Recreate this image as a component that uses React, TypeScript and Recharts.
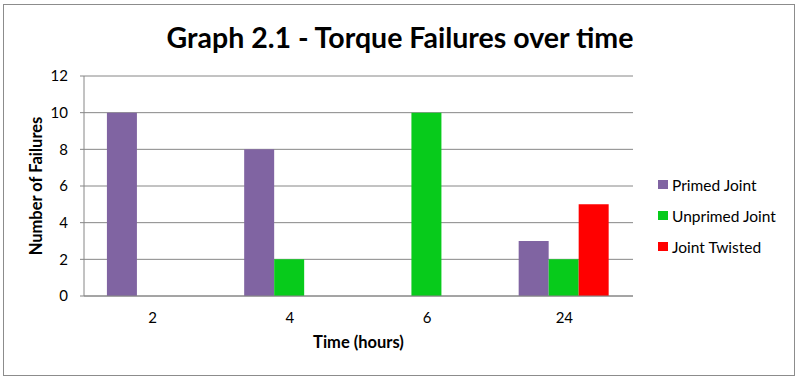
import { BarChart, Bar, XAxis, YAxis, CartesianGrid, Legend } from 'recharts';

const categories = ['2', '4', '6', '24'];
const primedJoint = [10, 8, 0, 3];
const unprimedJoint = [0, 2, 10, 2];
const jointTwisted = [0, 0, 0, 5];
const yTicks = [0, 2, 4, 6, 8, 10, 12];

const seriesInfo = [
  { key: 'primed', name: 'Primed Joint', color: '#8064A2' },
  { key: 'unprimed', name: 'Unprimed Joint', color: '#07CB1B' },
  { key: 'twisted', name: 'Joint Twisted', color: '#FF0000' },
];

const data = categories.map((time, i) => ({
  time,
  primed: primedJoint[i],
  unprimed: unprimedJoint[i],
  twisted: jointTwisted[i],
}));

const FONT = 'Lato, "Open Sans", sans-serif';

const LegendBox = () => (
  <div style={{ fontFamily: FONT, fontSize: 15.5, color: '#000' }}>
    {seriesInfo.map((s) => (
      <div key={s.key} style={{ display: 'flex', alignItems: 'center', height: 31 }}>
        <span style={{ width: 10, height: 9, background: s.color, marginRight: 4, display: 'inline-block' }} />
        <span>{s.name}</span>
      </div>
    ))}
  </div>
);

export default function App() {
  return (
    <div style={{ position: 'absolute', left: 0, top: 0, width: 800, height: 381, background: '#fff' }}>
      <div
        style={{
          position: 'absolute',
          left: 3,
          top: 4,
          width: 790,
          height: 370,
          border: '1px solid #8c8c8c',
        }}
      />
      <div
        style={{
          position: 'absolute',
          left: 0,
          top: 20,
          width: 800,
          textAlign: 'center',
          fontFamily: FONT,
          fontWeight: 'bold',
          fontSize: 28.5,
          color: '#000',
        }}
      >
        Graph 2.1 - Torque Failures over time
      </div>
      <div style={{ position: 'absolute', left: 0, top: 0 }}>
        <BarChart
          width={800}
          height={381}
          data={data}
          margin={{ top: 76, right: 27, left: 0, bottom: 0 }}
          barCategoryGap="16.7%"
          barGap={0}
        >
          <CartesianGrid vertical={false} stroke="#868686" strokeWidth={1} />
          <XAxis
            dataKey="time"
            height={85}
            tickLine={false}
            tickSize={0}
            tickMargin={16}
            axisLine={{ stroke: '#868686' }}
            tick={{ fill: '#000', fontSize: 15, fontFamily: FONT }}
            label={{
              value: 'Time (hours)',
              position: 'insideTop',
              offset: 40,
              style: { fill: '#000', fontSize: 16.5, fontWeight: 'bold', fontFamily: FONT },
            }}
          />
          <YAxis
            width={84}
            domain={[0, 12]}
            ticks={yTicks}
            interval={0}
            tickSize={4}
            tickMargin={12}
            tickLine={{ stroke: '#868686' }}
            axisLine={{ stroke: '#868686' }}
            tick={{ fill: '#000', fontSize: 15, fontFamily: FONT }}
            label={{
              value: 'Number of Failures',
              angle: -90,
              position: 'center',
              dx: -6,
              style: { fill: '#000', fontSize: 16.5, fontWeight: 'bold', fontFamily: FONT, textAnchor: 'middle' },
            }}
          />
          <Legend
            layout="vertical"
            align="right"
            verticalAlign="top"
            content={<LegendBox />}
            wrapperStyle={{ left: 658, top: 169, width: 140 }}
          />
          {seriesInfo.map((s) => (
            <Bar key={s.key} dataKey={s.key} name={s.name} fill={s.color} isAnimationActive={false} />
          ))}
        </BarChart>
      </div>
    </div>
  );
}
